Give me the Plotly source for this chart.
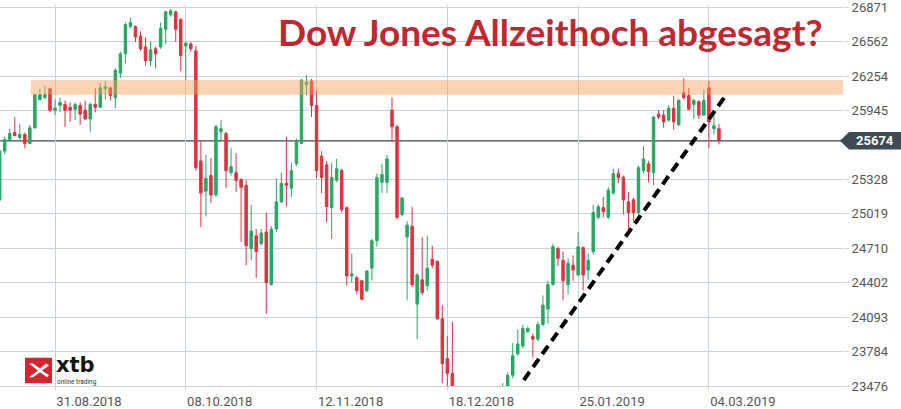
import plotly.graph_objects as go

# ---------------- data ----------------
tick_index = [11, 37, 63, 89, 115, 141]
tick_labels = ["31.08.2018", "08.10.2018", "12.11.2018", "18.12.2018", "25.01.2019", "04.03.2019"]
y_ticks = [23476, 23784, 24093, 24402, 24710, 25019, 25328, 25945, 26254, 26562, 26871]

open_ = [
    25145, 25582, 25686, 25748, 25704, 25730, 25651, 25791, 26045, 26062,
    26141, 25949, 25992, 26001, 25975, 25957, 25992, 25949, 25870, 26001,
    25975, 26141, 26149, 26062, 26281, 26455, 26700, 26700, 26612, 26516,
    26394, 26499, 26516, 26674, 26805, 26831, 26761, 26525, 26543, 26481,
    25494, 25223, 25363, 25189, 25756, 25739, 25389, 25389, 25328, 25276,
    24708, 24822, 24752, 24856, 24385, 24883, 25127, 25293, 25250, 25468,
    25651, 26176, 26211, 25992, 25538, 25459, 25075, 25320, 25407, 25075,
    24463, 24446, 24420, 24332, 24533, 24778, 25302, 25302, 25949, 25800,
    25014, 24813, 24909, 24210, 24428, 24376, 24612, 24594, 24079, 23721,
    23590, 23300, 22860, 22320, 21860, 22630, 23210, 23150, 23060, 23180,
    22700, 23467, 23572, 23764, 23834, 23965, 23922, 23896, 24027, 24166,
    24385, 24708, 24603, 24385, 24559, 24472, 24717, 24516, 24682, 24988,
    25075, 24988, 25206, 25381, 25346, 25127, 25145, 25031, 25407, 25468,
    25389, 25914, 25905, 25861, 25966, 25817, 26106, 26080, 26001, 26027,
    25905, 26149, 25783, 25783,
]
high = [
    25599, 25713, 25783, 25887, 25826, 25748, 25817, 26097, 26141, 26167,
    26149, 26045, 26062, 26036, 26018, 26018, 26018, 26036, 26018, 26149,
    26193, 26211, 26158, 26324, 26473, 26735, 26778, 26709, 26656, 26604,
    26560, 26516, 26735, 26840, 26857, 26840, 26778, 26560, 26560, 26525,
    25669, 25547, 25520, 25817, 25861, 25756, 25608, 25564, 25337, 25320,
    25101, 24883, 24883, 25031, 24909, 25337, 25389, 25713, 25477, 25695,
    26228, 26263, 26228, 26123, 25582, 25494, 25477, 25512, 25424, 25084,
    24664, 24463, 24428, 24516, 24795, 25381, 25468, 25547, 26062, 25817,
    25171, 24953, 25084, 24490, 24813, 24822, 24734, 24603, 24201, 23922,
    24053, 23420, 23000, 22340, 22880, 23140, 23380, 23330, 23370, 23180,
    23502, 23599, 23861, 23983, 24027, 24009, 23948, 24053, 24289, 24420,
    24752, 24725, 24682, 24621, 24647, 24856, 24725, 24664, 25101, 25101,
    25171, 25258, 25424, 25424, 25363, 25215, 25162, 25451, 25625, 25494,
    25896, 25949, 25949, 25992, 26080, 26053, 26237, 26149, 26053, 26036,
    26132, 26211, 25905, 25826,
]
low = [
    25127, 25555, 25669, 25713, 25686, 25608, 25643, 25783, 26036, 26045,
    25931, 25905, 25931, 25800, 25844, 25861, 25817, 25861, 25756, 25931,
    25966, 26045, 26036, 25966, 26237, 26368, 26682, 26560, 26481, 26350,
    26342, 26324, 26499, 26543, 26787, 26560, 26298, 26219, 26473, 25407,
    24900, 24996, 25119, 25171, 25669, 25250, 25363, 25215, 24769, 24559,
    24603, 24446, 24734, 24123, 24376, 24856, 25119, 25084, 25171, 25451,
    25643, 26080, 25887, 25337, 25206, 24944, 24795, 25302, 25031, 24376,
    24402, 24297, 24245, 24315, 24420, 24725, 25206, 25206, 25669, 24970,
    24996, 24245, 24359, 23896, 24289, 24332, 24533, 24070, 23502, 23467,
    23000, 22700, 22400, 21790, 21710, 22270, 22980, 23030, 22640, 22640,
    22650, 23450, 23546, 23747, 23817, 23948, 23730, 23878, 24009, 24035,
    24376, 24551, 24245, 24297, 24420, 24463, 24332, 24428, 24656, 24970,
    24988, 24970, 25189, 25293, 25014, 24883, 24953, 25014, 25381, 25302,
    25276, 25870, 25791, 25844, 25774, 25809, 26045, 25949, 25870, 25870,
    25896, 25608, 25730, 25643,
]
close = [
    25582, 25686, 25739, 25721, 25730, 25651, 25791, 26088, 26088, 26088,
    25949, 25966, 26018, 25949, 25949, 26001, 25914, 25870, 26001, 25975,
    26149, 26158, 26080, 26307, 26455, 26717, 26735, 26604, 26499, 26394,
    26490, 26455, 26682, 26831, 26840, 26674, 26438, 26551, 26499, 25433,
    25206, 25337, 25189, 25800, 25783, 25407, 25442, 25320, 25258, 24734,
    24865, 24682, 24848, 24402, 24883, 25127, 25293, 25276, 25407, 25669,
    26219, 26202, 25992, 25407, 25346, 25084, 25346, 25424, 25057, 24463,
    24481, 24332, 24254, 24507, 24778, 25346, 25372, 25512, 25800, 24988,
    25162, 24918, 24385, 24472, 24315, 24533, 24559, 24079, 23677, 23590,
    23330, 22860, 22445, 21792, 22878, 23138, 23062, 23327, 23346, 22686,
    23460, 23572, 23747, 23852, 23992, 23992, 23896, 24027, 24201, 24385,
    24725, 24621, 24420, 24577, 24516, 24725, 24472, 24603, 25031, 25084,
    25040, 25232, 25381, 25346, 25145, 25031, 25031, 25433, 25512, 25398,
    25887, 25887, 25844, 25966, 25844, 26036, 26062, 25957, 26036, 25905,
    26036, 25844, 25809, 25674,
]
bars = list(range(len(close)))

last_price = 25674
resistance_band = [26088, 26219]
trend_x = [104.2, 144.6]
trend_y = [23529, 26097]

# ---------------- figure ----------------
X_RANGE = [0.066, 167.66]
Y_RANGE = [23476, 26892]
GRID = "#c9d1d9"
GREEN = "#26a862"
RED = "#e2303f"
W, H = 843.0, 391.0


def yp(v):
    return (v - Y_RANGE[0]) / (Y_RANGE[1] - Y_RANGE[0])


def px(x):
    return x / W


def py(y):
    return 1 - y / H


fig = go.Figure()
fig.add_trace(go.Candlestick(
    x=bars, open=open_, high=high, low=low, close=close,
    increasing=dict(line=dict(color=GREEN, width=1), fillcolor=GREEN),
    decreasing=dict(line=dict(color=RED, width=1), fillcolor=RED),
    whiskerwidth=0, showlegend=False, hoverinfo="skip",
))

shapes = [
    dict(type="line", xref="paper", yref="y", x0=0, x1=1, y0=last_price, y1=last_price,
         line=dict(color="#3b4650", width=1.3), layer="between"),
    dict(type="rect", xref="x", yref="y", x0=6.2, x1=X_RANGE[1],
         y0=resistance_band[0], y1=resistance_band[1],
         fillcolor="rgba(247,160,90,0.45)", line=dict(width=0), layer="above"),
    dict(type="line", xref="x", yref="y", x0=trend_x[0], y0=trend_y[0], x1=trend_x[1], y1=trend_y[1],
         line=dict(color="black", width=4, dash="10px,6px"), layer="above"),
]

# price label with arrow
half = 9 / H
x_tip = px(840)
x_box0 = px(849)
x_box1 = px(901)
y_c = yp(last_price)
shapes.append(dict(
    type="path", xref="paper", yref="paper",
    path=(f"M {x_tip} {y_c} L {x_box0} {y_c + half} L {x_box1} {y_c + half} "
          f"L {x_box1} {y_c - half} L {x_box0} {y_c - half} Z"),
    fillcolor="#3e4b55", line=dict(width=0), layer="above",
))

# xtb logo
shapes.append(dict(type="rect", xref="paper", yref="paper",
                   x0=px(25), x1=px(52), y0=py(388), y1=py(362),
                   fillcolor="#d8232d", line=dict(width=0), layer="above"))
shapes.append(dict(type="path", xref="paper", yref="paper",
                   path=(f"M {px(29)} {py(368)} L {px(38)} {py(375)} L {px(29)} {py(382)} "
                         f"L {px(33)} {py(382)} L {px(40)} {py(377)} L {px(47)} {py(382)} "
                         f"L {px(49)} {py(380)} L {px(42)} {py(375)} L {px(49)} {py(370)} "
                         f"L {px(46)} {py(368)} L {px(40)} {py(373)} L {px(33)} {py(368)} Z"),
                   fillcolor="white", line=dict(width=0), layer="above"))

annotations = [
    dict(text="Dow Jones Allzeithoch abgesagt?", xref="paper", yref="paper",
         x=px(276), y=py(2), xanchor="left", yanchor="top", showarrow=False,
         font=dict(family="Lato", size=37, color="#c3262e", weight="bold")),
    dict(text="<b>25674</b>", xref="paper", yref="paper", x=(x_box0 + x_box1) / 2, y=y_c,
         xanchor="center", yanchor="middle", showarrow=False,
         font=dict(family="Roboto", size=13, color="white")),
    dict(text="<b>xtb</b>", xref="paper", yref="paper", x=px(55), y=py(369.5),
         xanchor="left", yanchor="middle", showarrow=False, borderpad=0,
         font=dict(family="DejaVu Sans", size=21, color="#151515")),
    dict(text="online trading", xref="paper", yref="paper", x=px(56), y=py(386.5),
         xanchor="left", yanchor="middle", showarrow=False, borderpad=0,
         font=dict(family="Roboto", size=6.5, color="#333333")),
]

fig.update_layout(
    width=901, height=409,
    margin=dict(l=0, r=58, t=0, b=18),
    paper_bgcolor="white", plot_bgcolor="white",
    shapes=shapes, annotations=annotations,
    xaxis=dict(
        range=X_RANGE, tickvals=tick_index, ticktext=tick_labels,
        showgrid=True, gridcolor=GRID, gridwidth=1,
        ticks="outside", ticklen=3, tickcolor=GRID,
        showline=True, linecolor=GRID, linewidth=1,
        zeroline=False, rangeslider=dict(visible=False),
        tickfont=dict(family="Roboto", size=13, color="#555555"),
        ticklabelshift=34, fixedrange=True,
    ),
    yaxis=dict(
        range=Y_RANGE, side="right", tickvals=y_ticks,
        ticktext=[str(v) for v in y_ticks],
        showgrid=True, gridcolor=GRID, gridwidth=1,
        ticks="outside", ticklen=5, tickcolor=GRID,
        zeroline=False, showline=False, ticklabeloverflow="allow",
        tickfont=dict(family="Roboto", size=13, color="#555555"),
        fixedrange=True,
    ),
)

fig.write_html(
    "out.html",
    config={"displayModeBar": False, "staticPlot": True},
    post_script="document.body.style.margin='0';document.body.style.overflow='hidden';",
)
